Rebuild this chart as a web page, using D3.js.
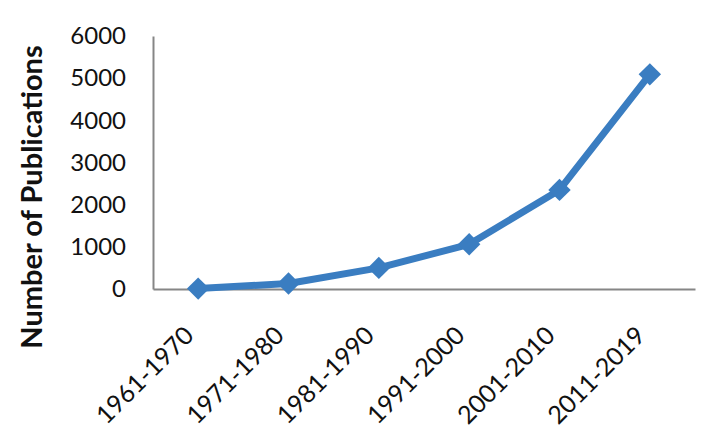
<!DOCTYPE html>
<html>
<head>
<meta charset="utf-8">
<script src="https://cdn.jsdelivr.net/npm/d3@7"></script>
<style>
  body { margin: 0; background: #fff; }
  text { font-family: Lato, "Open Sans", sans-serif; }
</style>
</head>
<body>
<svg id="line-chart"></svg>
<script>
// Publications per decade
const periods = ['1961-1970', '1971-1980', '1981-1990', '1991-2000', '2001-2010', '2011-2019'];
const publications = [10, 130, 500, 1060, 2350, 5090];
const yTicks = [0, 1000, 2000, 3000, 4000, 5000, 6000];

const width = 720;
const height = 435;
const margin = {top: 36, right: 25, bottom: 146, left: 153};

let svg = d3.select('#line-chart')
    .attr('width', width)
    .attr('height', height);

let g = svg.append('g')
    .attr('transform', 'translate(' + margin.left + ',' + margin.top + ')');

const w = width - margin.left - margin.right;
const h = height - margin.top - margin.bottom;

let x = d3.scaleBand()
    .domain(periods)
    .range([0, w]);

let y = d3.scaleLinear()
    .domain([0, 6000])
    .range([h, 0]);

// y axis
let yAxis = g.append('g')
    .call(d3.axisLeft(y).tickValues(yTicks).tickFormat(d3.format('d')).tickSize(0).tickPadding(27));
yAxis.select('.domain').attr('stroke', '#868686').attr('stroke-width', 2);
yAxis.selectAll('text')
    .attr('font-size', 24)
    .attr('fill', '#111')
    .style('font-family', 'Lato, sans-serif');

// x axis
let xAxis = g.append('g')
    .attr('transform', 'translate(0,' + h + ')')
    .call(d3.axisBottom(x).tickSize(0).tickPadding(0));
xAxis.select('.domain').attr('stroke', '#868686').attr('stroke-width', 2);
xAxis.selectAll('text')
    .attr('font-size', 25)
    .attr('fill', '#111')
    .attr('text-anchor', 'end')
    .attr('dy', 0)
    .style('font-family', 'Lato, sans-serif')
    .attr('transform', 'translate(-3,48) rotate(-45)');

// axis title
svg.append('text')
    .attr('transform', 'translate(42,197) rotate(-90)')
    .attr('text-anchor', 'middle')
    .attr('font-size', 29)
    .attr('font-weight', 'bold')
    .attr('fill', '#111')
    .text('Number of Publications');

// line
g.append('path')
    .datum(publications)
    .attr('fill', 'none')
    .attr('stroke', '#3a7dc1')
    .attr('stroke-width', 7)
    .attr('stroke-linejoin', 'round')
    .attr('d', d3.line()
        .x((d, i) => x(periods[i]) + x.bandwidth() / 2)
        .y(d => y(d))
    );

// diamond markers
g.selectAll('.marker')
    .data(publications)
    .join('path')
    .attr('class', 'marker')
    .attr('fill', '#3a7dc1')
    .attr('transform', (d, i) => 'translate(' + (x(periods[i]) + x.bandwidth() / 2) + ',' + y(d) + ')')
    .attr('d', d3.symbol().type(d3.symbolDiamond2).size(320));
</script>
</body>
</html>
